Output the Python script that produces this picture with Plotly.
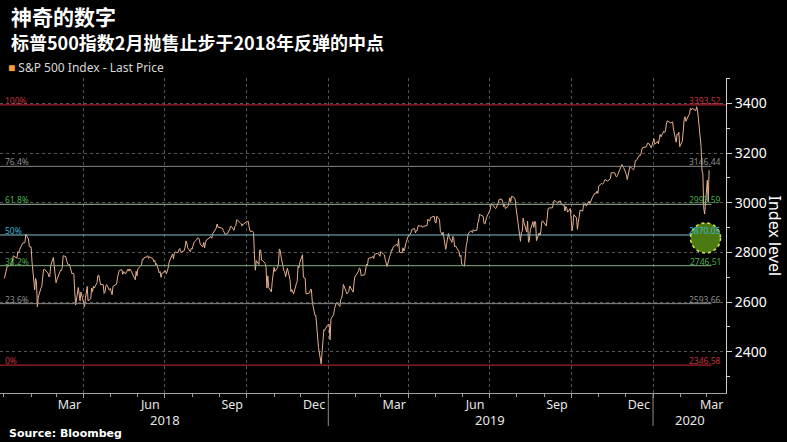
import pandas as pd
import plotly.graph_objects as go

# ---------------- data ----------------
HOLIDAYS_2018 = ["2018-01-01", "2018-01-15", "2018-02-19", "2018-03-30", "2018-05-28",
                 "2018-07-04", "2018-09-03", "2018-11-22", "2018-12-05", "2018-12-25"]
HOLIDAYS_2019 = ["2019-01-01", "2019-01-21", "2019-02-18", "2019-04-19", "2019-05-27",
                 "2019-07-04", "2019-09-02", "2019-11-28", "2019-12-25"]
HOLIDAYS_2020 = ["2020-01-01", "2020-01-20", "2020-02-17"]

SPX_2018 = [
    # Jan
    2695.81, 2713.06, 2723.99, 2743.15, 2747.71, 2751.29, 2748.23, 2767.56, 2786.24, 2776.42,
    2802.56, 2798.03, 2810.30, 2832.97, 2839.13, 2837.54, 2839.25, 2872.87, 2853.53, 2822.43, 2823.81,
    # Feb
    2821.98, 2762.13, 2648.94, 2695.14, 2681.66, 2581.00, 2619.55, 2656.00, 2662.94, 2698.63,
    2731.20, 2732.22, 2716.26, 2701.33, 2703.96, 2747.30, 2779.60, 2744.28, 2713.83,
    # Mar
    2677.67, 2691.25, 2720.94, 2728.12, 2726.80, 2738.97, 2786.57, 2783.02, 2765.31, 2749.48,
    2747.33, 2752.01, 2712.92, 2716.94, 2711.93, 2643.69, 2588.26, 2658.55, 2612.62, 2605.00, 2640.87,
    # Apr
    2581.88, 2614.45, 2644.69, 2662.84, 2604.47, 2613.16, 2656.87, 2642.19, 2663.99, 2656.30,
    2677.84, 2706.39, 2708.64, 2693.13, 2670.14, 2670.29, 2634.56, 2639.40, 2666.94, 2669.91, 2648.05,
    # May
    2654.80, 2635.67, 2629.73, 2663.42, 2672.63, 2671.92, 2697.79, 2723.07, 2727.72, 2730.13,
    2711.45, 2722.46, 2720.13, 2712.97, 2733.01, 2724.44, 2733.29, 2727.76, 2721.33, 2689.86, 2724.01, 2705.27,
    # Jun
    2734.62, 2746.87, 2748.80, 2772.35, 2770.37, 2779.03, 2782.00, 2786.85, 2775.63, 2782.49,
    2779.66, 2773.75, 2762.59, 2767.32, 2749.76, 2754.88, 2717.07, 2723.06, 2699.63, 2716.31, 2718.37,
    # Jul
    2726.71, 2713.22, 2736.61, 2759.82, 2784.17, 2793.84, 2774.02, 2798.29, 2801.31, 2798.43,
    2809.55, 2815.62, 2804.49, 2801.83, 2806.98, 2820.40, 2846.07, 2837.44, 2818.82, 2802.60, 2816.29,
    # Aug
    2813.36, 2827.22, 2840.35, 2850.40, 2858.45, 2857.70, 2853.58, 2833.28, 2821.93, 2839.96,
    2818.37, 2840.69, 2850.13, 2857.05, 2862.96, 2861.82, 2856.98, 2874.69, 2896.74, 2897.52,
    2914.04, 2901.13, 2901.52,
    # Sep
    2896.72, 2888.60, 2878.05, 2871.68, 2877.13, 2887.89, 2888.92, 2904.18, 2904.98, 2888.80,
    2904.31, 2907.95, 2930.75, 2929.67, 2919.37, 2915.56, 2905.97, 2914.00, 2913.98,
    # Oct
    2924.59, 2923.43, 2925.51, 2901.61, 2885.57, 2884.43, 2880.34, 2785.68, 2728.37, 2767.13,
    2750.79, 2809.92, 2809.21, 2768.78, 2767.78, 2755.88, 2740.69, 2656.10, 2705.57, 2658.69,
    2641.25, 2682.63, 2711.74,
    # Nov
    2740.37, 2723.06, 2738.31, 2755.45, 2813.89, 2806.83, 2781.01, 2726.22, 2722.18, 2701.58,
    2730.20, 2736.27, 2690.73, 2641.89, 2649.93, 2632.56, 2673.45, 2682.17, 2743.79, 2737.80, 2760.17,
    # Dec
    2790.37, 2700.06, 2695.95, 2633.08, 2637.72, 2636.78, 2651.07, 2650.54, 2599.95, 2545.94,
    2546.16, 2506.96, 2467.42, 2416.62, 2351.10, 2467.70, 2488.83, 2485.74, 2506.85,
]

SPX_2019 = [
    # Jan
    2510.03, 2447.89, 2531.94, 2549.69, 2574.41, 2584.96, 2596.64, 2596.26, 2582.61, 2610.30,
    2616.10, 2635.96, 2670.71, 2632.90, 2638.70, 2642.33, 2664.76, 2643.85, 2640.00, 2681.05, 2704.10,
    # Feb
    2706.53, 2724.87, 2737.70, 2731.61, 2706.05, 2707.88, 2709.80, 2744.73, 2753.03, 2745.73,
    2775.60, 2779.76, 2784.70, 2774.88, 2792.67, 2796.11, 2793.90, 2792.38, 2784.49,
    # Mar
    2803.69, 2792.81, 2789.65, 2771.45, 2748.93, 2743.07, 2783.30, 2791.52, 2810.92, 2808.48,
    2822.48, 2832.94, 2832.57, 2824.23, 2854.88, 2800.71, 2798.36, 2818.46, 2805.37, 2815.44, 2834.40,
    # Apr
    2867.19, 2867.24, 2873.40, 2879.39, 2892.74, 2895.77, 2878.20, 2888.21, 2888.32, 2907.41,
    2905.58, 2907.06, 2900.45, 2905.03, 2907.97, 2933.68, 2927.25, 2926.17, 2939.88, 2943.03, 2945.83,
    # May
    2923.73, 2917.52, 2945.64, 2932.47, 2884.05, 2879.42, 2870.72, 2881.40, 2811.87, 2834.41,
    2850.96, 2876.32, 2859.53, 2840.23, 2864.36, 2856.27, 2822.24, 2826.06, 2802.39, 2783.02, 2788.86, 2752.06,
    # Jun
    2744.45, 2803.27, 2826.15, 2843.49, 2873.34, 2886.73, 2885.72, 2879.84, 2891.64, 2886.98,
    2889.67, 2917.75, 2926.46, 2954.18, 2950.46, 2945.35, 2917.38, 2913.78, 2924.92, 2941.76,
    # Jul
    2964.33, 2973.01, 2995.82, 2990.41, 2975.95, 2979.63, 2993.07, 2999.91, 3013.77, 3014.30,
    3004.04, 2984.42, 2995.11, 2976.61, 2985.03, 3005.47, 3019.56, 3003.67, 3025.86, 3020.97, 3013.18, 2980.38,
    # Aug
    2953.56, 2932.05, 2844.74, 2881.77, 2883.98, 2938.09, 2918.65, 2882.70, 2926.32, 2840.60,
    2847.60, 2888.68, 2923.65, 2900.51, 2924.43, 2922.95, 2847.11, 2878.38, 2869.16, 2887.94, 2924.58, 2926.46,
    # Sep
    2906.27, 2937.78, 2976.00, 2978.71, 2978.43, 2979.39, 3000.93, 3009.57, 3007.39, 2997.96,
    3005.70, 3006.73, 3006.79, 2992.07, 2991.78, 2966.60, 2984.87, 2977.62, 2961.79, 2976.74,
    # Oct
    2940.25, 2887.61, 2910.63, 2952.01, 2938.79, 2893.06, 2919.40, 2938.13, 2970.27, 2966.15,
    2995.68, 2989.69, 2997.95, 2986.20, 3006.72, 2995.99, 3004.52, 3010.29, 3022.55, 3039.42,
    3036.89, 3046.77, 3037.56,
    # Nov
    3066.91, 3078.27, 3074.62, 3076.78, 3085.18, 3093.08, 3087.01, 3091.84, 3094.04, 3096.63,
    3120.46, 3122.03, 3120.18, 3108.46, 3103.54, 3110.29, 3133.64, 3140.52, 3153.63, 3140.98,
    # Dec
    3113.87, 3093.20, 3112.76, 3117.43, 3145.91, 3135.96, 3132.52, 3141.63, 3168.57, 3168.80,
    3191.45, 3192.52, 3191.14, 3205.37, 3221.22, 3224.01, 3223.38, 3239.91, 3240.02, 3221.29, 3230.78,
]

SPX_2020 = [
    # Jan
    3257.85, 3234.85, 3246.28, 3237.18, 3253.05, 3274.70, 3265.35, 3288.13, 3283.15, 3289.29,
    3316.81, 3329.62, 3320.79, 3321.75, 3325.54, 3295.47, 3243.63, 3276.24, 3273.40, 3283.66, 3225.52,
    # Feb
    3248.92, 3297.59, 3334.69, 3345.78, 3327.71, 3352.09, 3357.75, 3379.45, 3373.94, 3380.16,
    3370.29, 3386.15, 3373.23, 3337.75, 3225.89, 3128.21, 3116.39, 2978.76, 2954.22,
    # Mar
    3090.23, 3003.37, 3130.12,
]

FIB_PCT = ["100%", "76.4%", "61.8%", "50%", "38.2%", "23.6%", "0%"]
FIB_LEVELS = [3393.52, 3146.44, 2993.59, 2870.05, 2746.51, 2593.66, 2346.58]
FIB_LINE_COLORS = ["#a3202c", "#8a8a8a", "#9fb89f", "#7fc0c8", "#7faf7f", "#8a8a8a", "#a3202c"]
FIB_TEXT_COLORS = ["#c0303c", "#8c8c8c", "#4caa4c", "#35b5d8", "#4caa4c", "#8c8c8c", "#c0303c"]

LOW_DATE = "2020-02-29"
LOW_VALUE = 2858

X_RANGE = ["2017-12-28", "2020-03-23"]
Y_RANGE = [2234, 3502]
Y_TICKS = [2400, 2600, 2800, 3000, 3200, 3400]

MONTH_TICK_DATES = ["2018-03-16", "2018-06-15", "2018-09-15", "2018-12-16",
                    "2019-03-16", "2019-06-15", "2019-09-15", "2019-12-16", "2020-03-07"]
MONTH_TICK_LABELS = ["Mar", "Jun", "Sep", "Dec", "Mar", "Jun", "Sep", "Dec", "Mar"]
QUARTER_GRID = ["2018-04-01", "2018-07-01", "2018-10-01", "2019-01-01", "2019-04-01",
                "2019-07-01", "2019-10-01", "2020-01-01"]
YEAR_LABELS = ["2018", "2019", "2020"]
YEAR_LABEL_DATES = ["2018-07-02", "2019-07-02", "2020-02-11"]
YEAR_STARTS = ["2019-01-01", "2020-01-01"]

# ---------------- build dates ----------------
d18 = pd.bdate_range("2018-01-01", "2018-12-31", freq="C", holidays=HOLIDAYS_2018)
d19 = pd.bdate_range("2019-01-01", "2019-12-31", freq="C", holidays=HOLIDAYS_2019)
d20 = pd.bdate_range("2020-01-01", "2020-03-31", freq="C", holidays=HOLIDAYS_2020)[:len(SPX_2020)]
assert len(d18) == len(SPX_2018), (len(d18), len(SPX_2018))
assert len(d19) == len(SPX_2019), (len(d19), len(SPX_2019))
dates = list(d18) + list(d19) + list(d20)
values = SPX_2018 + SPX_2019 + SPX_2020

# ---------------- figure ----------------
W, H = 787, 442
ML, MR, MT, MB = 0, 61, 78, 49
PW, PH = W - ML - MR, H - MT - MB


def px_x(p):
    return (p - ML) / PW


def px_y(p):
    return (H - MB - p) / PH


fig = go.Figure()

fig.add_trace(go.Scatter(
    x=dates, y=values, mode="lines",
    line=dict(color="#e6b08e", width=1),
    hoverinfo="x+y", showlegend=False,
))

# helper trace for the secondary (grid / month tick) x axis
fig.add_trace(go.Scatter(
    x=[LOW_DATE], y=[LOW_VALUE], xaxis="x2", mode="markers",
    marker=dict(opacity=0), hoverinfo="skip", showlegend=False,
))

shapes = []
annotations = []

for pct, lvl, lc, tc in zip(FIB_PCT, FIB_LEVELS, FIB_LINE_COLORS, FIB_TEXT_COLORS):
    shapes.append(dict(type="line", xref="paper", yref="y", x0=0,
                       x1=1 if pct == "100%" else 0.98, y0=lvl, y1=lvl,
                       line=dict(color=lc, width=1.3 if pct in ("100%", "0%") else 1)))
    annotations.append(dict(xref="paper", yref="y", x=0.004, y=lvl, text=pct,
                            xanchor="left", yanchor="bottom", yshift=-3, showarrow=False,
                            font=dict(family="Noto Sans", size=8.5, color=tc)))
    annotations.append(dict(xref="paper", yref="y", x=0.996, y=lvl, text=f"{lvl:.2f}",
                            xanchor="right", yanchor="bottom", yshift=-3, showarrow=False,
                            font=dict(family="Noto Sans", size=8.5, color=tc)))

# highlight circle at the February low
shapes.append(dict(type="circle", xref="x", yref="y", xsizemode="pixel", ysizemode="pixel",
                   xanchor=LOW_DATE, yanchor=LOW_VALUE, x0=-15, x1=15, y0=-15, y1=15,
                   fillcolor="#4b7a12", line=dict(color="#d6e85a", width=1.5, dash="dot")))

# year separators below axis
for ys in YEAR_STARTS:
    shapes.append(dict(type="line", xref="x", yref="paper", x0=ys, x1=ys,
                       y0=0, y1=px_y(426), line=dict(color="#8a8a8a", width=1)))

for lab, d in zip(YEAR_LABELS, YEAR_LABEL_DATES):
    annotations.append(dict(xref="x", yref="paper", x=d, y=px_y(420), text=lab,
                            showarrow=False, xanchor="center", yanchor="middle",
                            font=dict(family="Noto Sans", size=13, color="#e6e6e6")))

# titles / legend / source
annotations += [
    dict(xref="paper", yref="paper", x=px_x(9), y=px_y(16), text="<b>神奇的数字</b>",
         showarrow=False, xanchor="left", yanchor="middle",
         font=dict(family="Noto Sans CJK SC", size=21, color="#ffffff")),
    dict(xref="paper", yref="paper", x=px_x(9), y=px_y(42),
         text="<b>标普500指数2月抛售止步于2018年反弹的中点</b>",
         showarrow=False, xanchor="left", yanchor="middle",
         font=dict(family="Noto Sans CJK SC", size=18, color="#ffffff")),
    dict(xref="paper", yref="paper", x=px_x(6), y=px_y(68),
         text='<span style="color:#f0a040">■</span> S&P 500 Index - Last Price',
         showarrow=False, xanchor="left", yanchor="middle",
         font=dict(family="Noto Sans", size=12, color="#d8d8d8")),
    dict(xref="paper", yref="paper", x=px_x(7), y=px_y(433), text="<b>Source: Bloombeg</b>",
         showarrow=False, xanchor="left", yanchor="middle",
         font=dict(family="DejaVu Sans", size=11, color="#ffffff")),
    dict(xref="paper", yref="paper", x=px_x(775), y=0.5, text="Index level",
         showarrow=False, xanchor="center", yanchor="middle", textangle=90,
         font=dict(family="Noto Sans", size=16, color="#ffffff")),
]

fig.update_layout(
    width=W, height=H,
    margin=dict(l=ML, r=MR, t=MT, b=MB, pad=0),
    paper_bgcolor="#000000", plot_bgcolor="#000000",
    showlegend=False,
    shapes=shapes, annotations=annotations,
    xaxis=dict(
        type="date", range=X_RANGE,
        tickmode="array", tickvals=MONTH_TICK_DATES, ticktext=MONTH_TICK_LABELS,
        ticks="", showgrid=False, zeroline=False,
        showline=True, linecolor="#a0a0a0", linewidth=1,
        tickfont=dict(family="Noto Sans", size=12.5, color="#e6e6e6"),
    ),
    xaxis2=dict(
        type="date", range=X_RANGE, overlaying="x", anchor="y", side="bottom",
        tickmode="array", tickvals=QUARTER_GRID, showticklabels=False,
        ticks="outside", ticklen=4, tickcolor="#a0a0a0",
        showgrid=True, gridcolor="#555555", griddash="dot", gridwidth=1,
        minor=dict(dtick="M1", tick0="2018-01-01", ticks="outside", ticklen=3,
                   tickcolor="#a0a0a0", showgrid=False),
        showline=False, zeroline=False,
    ),
    yaxis=dict(
        range=Y_RANGE, side="right",
        tickmode="array", tickvals=Y_TICKS,
        ticks="outside", ticklen=5, tickcolor="#d0d0d0",
        minor=dict(dtick=100, tick0=2300, ticks="outside", ticklen=3, tickcolor="#d0d0d0",
                   showgrid=False),
        showgrid=True, gridcolor="#555555", griddash="dot", gridwidth=1,
        showline=True, linecolor="#d0d0d0", linewidth=1, zeroline=False,
        tickfont=dict(family="Noto Sans", size=14, color="#ffffff"),
    ),
)

fig.write_html("out.html")
